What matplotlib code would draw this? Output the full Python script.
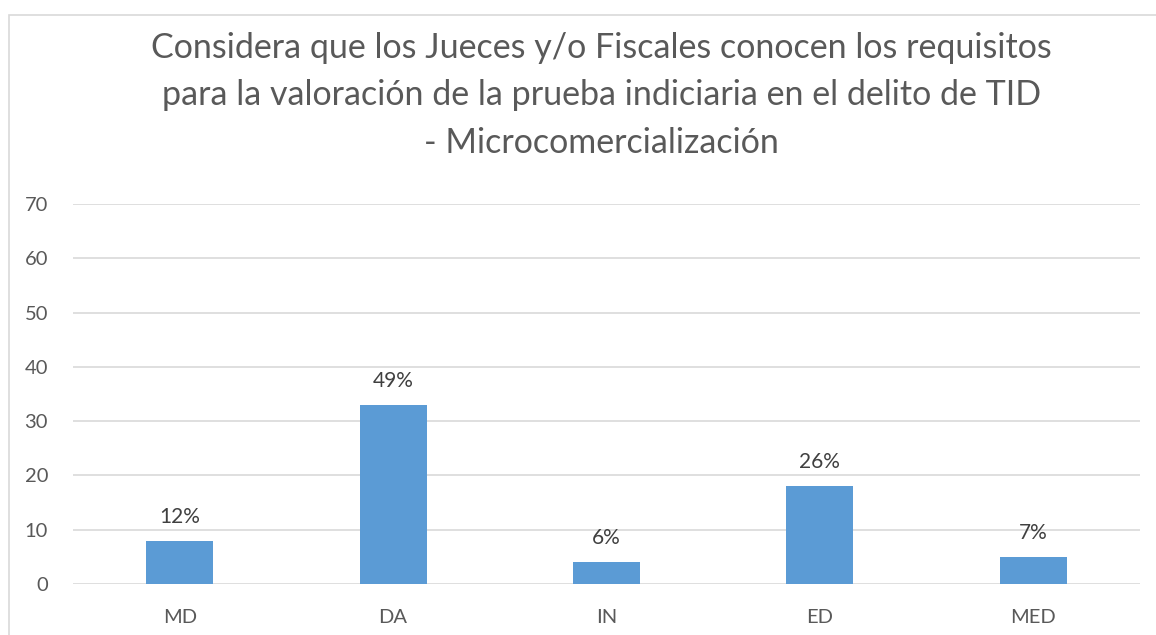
import matplotlib
matplotlib.use("Agg")
import matplotlib.pyplot as plt
from matplotlib.patches import Rectangle

categories = ["MD", "DA", "IN", "ED", "MED"]
values = [8, 33, 4, 18, 5]
pct_labels = ["12%", "49%", "6%", "26%", "7%"]
yticks = [0, 10, 20, 30, 40, 50, 60, 70]
title = ("Considera que los Jueces y/o Fiscales conocen los requisitos\n"
         "para la valoración de la prueba indiciaria en el delito de TID\n"
         "- Microcomercialización")

plt.rcParams["font.family"] = ["Lato", "DejaVu Sans"]
txt = "#595959"

fig = plt.figure(figsize=(11.56, 6.35), dpi=100)
ax = fig.add_axes([0.0632, 0.0803, 0.9229, 0.5984])

x = range(len(categories))
ax.bar(x, values, width=0.315, color="#5B9BD5", zorder=3)
for xi, v, lab in zip(x, values, pct_labels):
    ax.annotate(lab, (xi, v), xytext=(0, 10), textcoords="offset points",
                ha="center", va="bottom", fontsize=15, color="#404040")

ax.set_xlim(-0.5, len(categories) - 0.5)
ax.set_ylim(0, 70)
ax.set_yticks(yticks)
ax.set_xticks(list(x))
ax.set_xticklabels(categories)
ax.grid(axis="y", color="#D9D9D9", linewidth=1.2, zorder=0)
for s in ax.spines.values():
    s.set_visible(False)
ax.tick_params(length=0, labelsize=14.5, colors=txt)
ax.tick_params(axis="y", pad=18)
ax.tick_params(axis="x", pad=18)

fig.text(0.52, 0.85, title, ha="center", va="center", fontsize=24.5,
         color=txt, linespacing=1.6)

fig.patches.append(Rectangle((0.008, -0.1), 1.2, 1.077, transform=fig.transFigure,
                             fill=False, edgecolor="#D9D9D9", linewidth=1.2))

fig.savefig("out.png", dpi=100)
